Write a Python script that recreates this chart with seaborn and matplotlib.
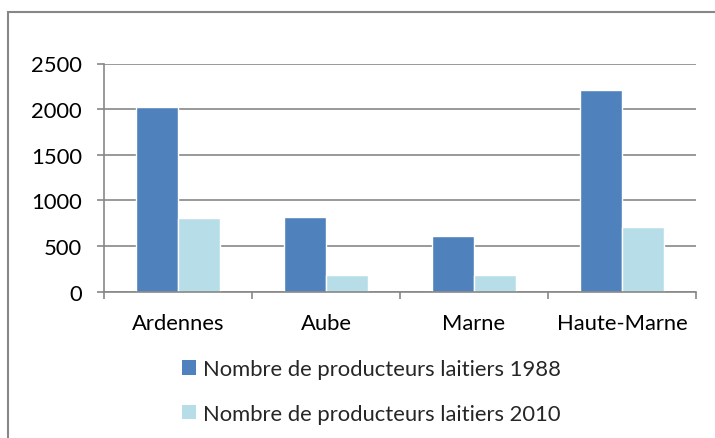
import numpy as np
import pandas as pd
import matplotlib.pyplot as plt
import seaborn as sns
from matplotlib.patches import Rectangle, Patch

departements = ['Ardennes', 'Aube', 'Marne', 'Haute-Marne']
producteurs_1988 = [2020, 815, 615, 2215]
producteurs_2010 = [805, 185, 178, 705]
series = ['Nombre de producteurs laitiers 1988', 'Nombre de producteurs laitiers 2010']
couleurs = ['#4F81BD', '#B7DEE8']

df = pd.DataFrame({
    'departement': departements * 2,
    'valeur': producteurs_1988 + producteurs_2010,
    'serie': [series[0]] * 4 + [series[1]] * 4,
})

sns.set_style('white')
plt.rcParams['font.family'] = ['Lato', 'DejaVu Sans']
fsize = 15.8
gris = '#878787'

fig = plt.figure(figsize=(7.15, 4.39), dpi=100)
ax = fig.add_axes([104 / 715, 1 - 292.7 / 439, 592 / 715, 228.2 / 439])

sns.barplot(data=df, x='departement', y='valeur', hue='serie',
            palette=couleurs, width=84 / 148, gap=0, ax=ax,
            saturation=1, legend=False)

ax.set_ylim(0, 2500)
ax.set_xlim(-0.5, 3.5)
ax.set_yticks([0, 500, 1000, 1500, 2000, 2500])
ax.set_xlabel('')
ax.set_ylabel('')
ax.grid(axis='y', color=gris, linewidth=1.2)
ax.set_axisbelow(True)
for s in ['top', 'right']:
    ax.spines[s].set_visible(False)
for s in ['left', 'bottom']:
    ax.spines[s].set_color(gris)
    ax.spines[s].set_linewidth(1.2)

ax.tick_params(axis='y', length=5, width=1.2, color=gris, pad=11,
               labelsize=fsize, labelcolor='black', left=True)
ax.set_xticks(np.arange(-0.5, 4, 1), minor=True)
ax.tick_params(axis='x', which='minor', length=5, width=1.2, color=gris, bottom=True)
ax.tick_params(axis='x', which='major', length=0, pad=15, labelsize=fsize, labelcolor='black')

handles = [Patch(facecolor=c, edgecolor='none') for c in couleurs]
fig.legend(handles, series, loc='upper left', bbox_to_anchor=(182 / 715, 1 - 360 / 439),
           frameon=False, fontsize=fsize, handlelength=0.65, handleheight=0.65,
           handletextpad=0.3, labelspacing=1.12, borderpad=0, borderaxespad=0)

fig.patches.append(Rectangle((8 / 715, -0.05), 1.0, 1 - 13 / 439 + 0.05,
                             transform=fig.transFigure, fill=False,
                             edgecolor=gris, linewidth=1.5))

fig.savefig('out.png', dpi=100)
